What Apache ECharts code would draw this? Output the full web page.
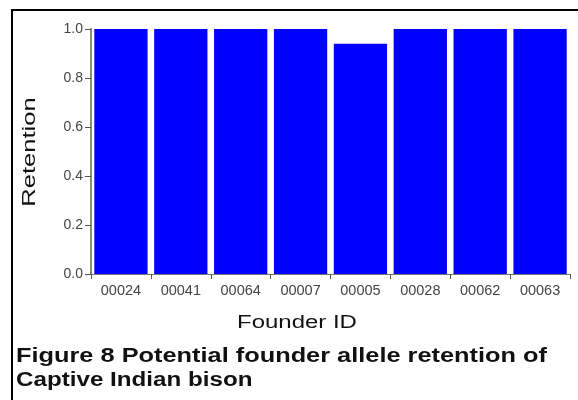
<!DOCTYPE html>
<html>
<head>
<meta charset="utf-8">
<script src="https://cdn.jsdelivr.net/npm/echarts@6/dist/echarts.min.js"></script>
<style>
html,body{margin:0;padding:0;background:#fff;}
#chart{width:578px;height:400px;}
</style>
</head>
<body>
<div id="chart"></div>
<script>
var categories = ['00024','00041','00064','00007','00005','00028','00062','00063'];
var retention = [1.0, 1.0, 1.0, 1.0, 0.94, 1.0, 1.0, 1.0];
var yTicks = [0, 0.2, 0.4, 0.6, 0.8, 1.0];

var FONT = '"Liberation Sans", Arial, sans-serif';
var chart = echarts.init(document.getElementById('chart'), null, {renderer:'canvas'});
chart.setOption({
  animation: false,
  backgroundColor: '#fff',
  grid: {left: 91, right: 8, top: 29, bottom: 126, containLabel: false},
  xAxis: {
    type: 'category',
    data: categories,
    axisLine: {show: true, lineStyle: {color: '#777', width: 1}},
    axisTick: {show: true, length: 5, lineStyle: {color: '#555', width: 1}},
    axisLabel: {color: '#444', fontFamily: FONT, fontSize: 14.5, margin: 9}
  },
  yAxis: {
    type: 'value',
    min: yTicks[0],
    max: yTicks[yTicks.length - 1],
    interval: 0.2,
    splitLine: {show: false},
    axisLine: {show: true, lineStyle: {color: '#888', width: 2}},
    axisTick: {show: true, length: 6, lineStyle: {color: '#555', width: 1}},
    axisLabel: {color: '#444', fontFamily: FONT, fontSize: 14, margin: 8,
      formatter: function (v) { return v.toFixed(1); }}
  },
  series: [{
    type: 'bar',
    data: retention,
    barCategoryGap: '11%',
    itemStyle: {color: '#0000ff'}
  }],
  graphic: [
    {type: 'line', shape: {x1: 12, y1: 10, x2: 578, y2: 10}, style: {stroke: '#000', lineWidth: 2}},
    {type: 'line', shape: {x1: 12, y1: 9, x2: 12, y2: 400}, style: {stroke: '#000', lineWidth: 2}},
    {type: 'text', x: 297, y: 323, scaleX: 1.33,
      style: {text: 'Founder ID', font: '18px ' + FONT, fill: '#111', textAlign: 'center', textVerticalAlign: 'middle'}},
    {type: 'text', x: 30, y: 152, rotation: Math.PI / 2, scaleX: 1.42,
      style: {text: 'Retention', font: '18px ' + FONT, fill: '#111', textAlign: 'center', textVerticalAlign: 'middle'}},
    {type: 'text', x: 16, y: 357, scaleX: 1.3,
      style: {text: 'Figure 8 Potential founder allele retention of', font: 'bold 19.5px ' + FONT, fill: '#111', textAlign: 'left', textVerticalAlign: 'middle'}},
    {type: 'text', x: 16, y: 381, scaleX: 1.24,
      style: {text: 'Captive Indian bison', font: 'bold 19.5px ' + FONT, fill: '#111', textAlign: 'left', textVerticalAlign: 'middle'}}
  ]
});
</script>
</body>
</html>
